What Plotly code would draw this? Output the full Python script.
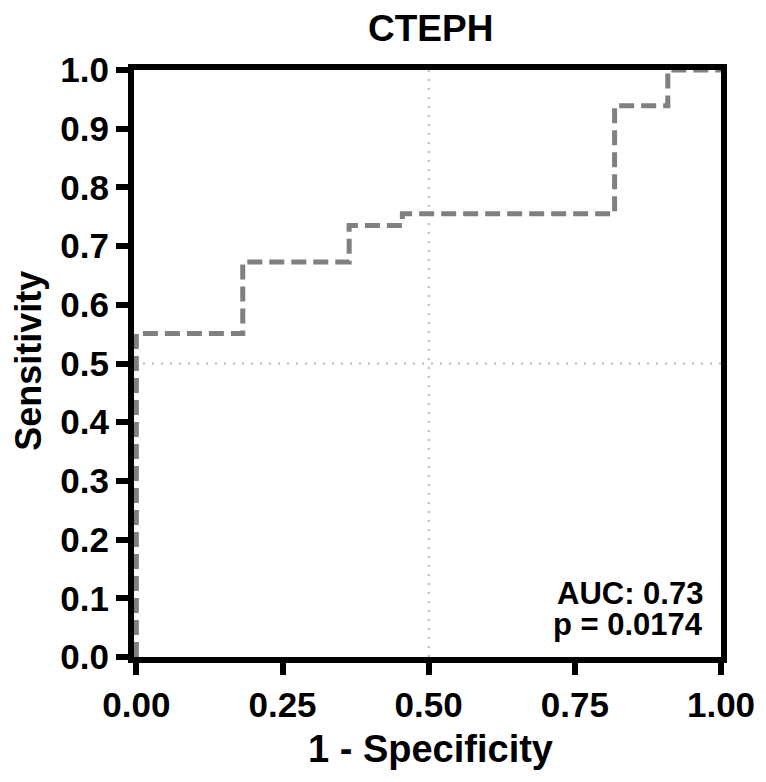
import plotly.graph_objects as go

# ROC step points (1 - specificity, sensitivity)
fpr = [0.0, 0.0, 0.182, 0.364, 0.455, 0.818, 0.909, 1.0]
tpr = [0.0, 0.551, 0.673, 0.735, 0.755, 0.939, 1.0, 1.0]

x_ticks = [0.0, 0.25, 0.5, 0.75, 1.0]
x_tick_text = ["0.00", "0.25", "0.50", "0.75", "1.00"]
y_ticks = [0.0, 0.1, 0.2, 0.3, 0.4, 0.5, 0.6, 0.7, 0.8, 0.9, 1.0]
y_tick_text = ["0.0", "0.1", "0.2", "0.3", "0.4", "0.5", "0.6", "0.7", "0.8", "0.9", "1.0"]

title = "CTEPH"
x_title = "1 - Specificity"
y_title = "Sensitivity"
auc_text = "AUC: 0.73"
p_text = "p = 0.0174"

FONT = "Liberation Sans, Arial, sans-serif"

fig = go.Figure()
fig.add_trace(go.Scatter(
    x=fpr, y=tpr, mode="lines", line_shape="hv",
    line=dict(color="#808080", width=5, dash="15px,7px"),
    showlegend=False, hoverinfo="skip", cliponaxis=False,
))

# dotted reference lines at 0.5
fig.add_shape(type="line", xref="x", yref="paper", x0=0.5, x1=0.5, y0=0, y1=1,
              line=dict(color="#b8b8b8", width=2, dash="2px,7px"), layer="below")
fig.add_shape(type="line", xref="paper", yref="y", x0=0, x1=1, y0=0.5, y1=0.5,
              line=dict(color="#b8b8b8", width=2, dash="2px,7px"), layer="below")

def txt(s, x, y, size, xanchor="center", textangle=0):
    fig.add_annotation(x=x, y=y, xref="paper", yref="paper", text=s, showarrow=False,
                       xanchor=xanchor, yanchor="middle", textangle=textangle,
                       borderpad=0,
                       font=dict(family=FONT, size=size, color="black", weight="bold"))

# AUC / p text
txt(auc_text, 0.971, 0.109, 31, xanchor="right")
txt(p_text, 0.971, 0.056, 31, xanchor="right")
# titles
txt(title, 0.5055, 1.071, 37)
txt(x_title, 0.5055, -0.157, 38)
txt(y_title, -0.179, 0.5045, 36, textangle=-90)

axis_common = dict(
    showgrid=False, zeroline=False, showline=True, linecolor="black", linewidth=6,
    mirror=True, ticks="outside", ticklen=12, tickwidth=6, tickcolor="black",
    automargin=False,
    tickfont=dict(family=FONT, size=35, color="black", weight="bold"),
)

# page has an 8px body margin; figure sized to fit the remaining window
fig.update_layout(
    width=758, height=774,
    margin=dict(l=126, r=45, t=62, b=125),
    plot_bgcolor="white", paper_bgcolor="white",
    xaxis=dict(range=[-0.004, 1.0], tickvals=x_ticks, ticktext=x_tick_text, **axis_common),
    yaxis=dict(range=[0.0, 1.0], tickvals=y_ticks, ticktext=y_tick_text, **axis_common),
)

fig.write_html("out.html")
